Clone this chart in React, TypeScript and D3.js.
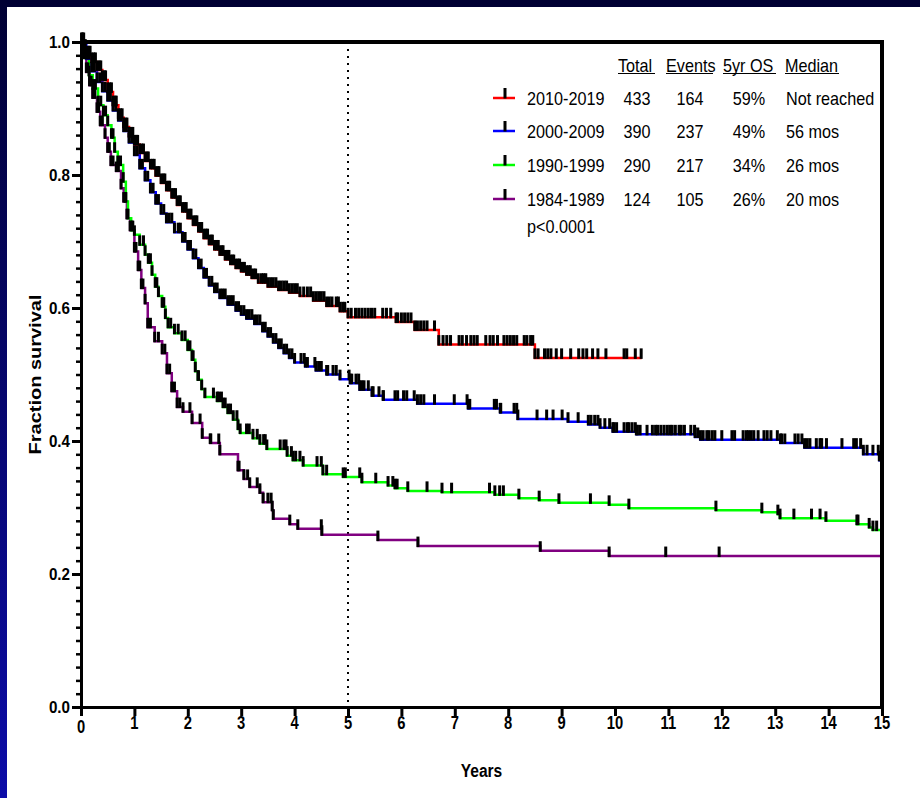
import React, { useEffect, useRef } from 'react';
import * as d3 from 'd3';

// legend / table
const groups = ['2010-2019', '2000-2009', '1990-1999', '1984-1989'];
const groupColors = ['#ff0000', '#0000ff', '#00ff00', '#800080'];
const totals = ['433', '390', '290', '124'];
const events = ['164', '237', '217', '105'];
const os5yr = ['59%', '49%', '34%', '26%'];
const medians = ['Not reached', '56 mos', '26 mos', '20 mos'];
const tableHeaders = ['Total', 'Events', '5yr OS', 'Median'];
const pValue = 'p<0.0001';

// axes
const xTicks = [0, 1, 2, 3, 4, 5, 6, 7, 8, 9, 10, 11, 12, 13, 14, 15];
const yTicks = [0, 0.2, 0.4, 0.6, 0.8, 1.0];

// KM steps: [years, survival after drop]
const redSteps = [
  [0.05, 0.99], [0.12, 0.98], [0.2, 0.97], [0.3, 0.958], [0.4, 0.943], [0.5, 0.925], [0.6, 0.905],
  [0.7, 0.886], [0.8, 0.872], [0.9, 0.858], [1.0, 0.846], [1.1, 0.833], [1.2, 0.821], [1.3, 0.81],
  [1.4, 0.799], [1.5, 0.788], [1.6, 0.777], [1.7, 0.766], [1.8, 0.755], [1.9, 0.745], [2.0, 0.735],
  [2.1, 0.725], [2.2, 0.715], [2.3, 0.705], [2.4, 0.696], [2.5, 0.688], [2.6, 0.68], [2.7, 0.673],
  [2.8, 0.666], [2.9, 0.66], [3.0, 0.655], [3.1, 0.65], [3.2, 0.645], [3.32, 0.638], [3.5, 0.632],
  [3.7, 0.627], [3.9, 0.623], [4.1, 0.618], [4.35, 0.611], [4.6, 0.603], [4.85, 0.595], [5.0, 0.586],
  [5.9, 0.579], [6.25, 0.567], [6.7, 0.545], [8.5, 0.525]
];
const blueSteps = [
  [0.1, 0.975], [0.2, 0.956], [0.3, 0.94], [0.4, 0.926], [0.5, 0.912], [0.6, 0.897], [0.7, 0.882],
  [0.8, 0.866], [0.9, 0.849], [1.0, 0.83], [1.1, 0.81], [1.2, 0.792], [1.3, 0.774], [1.4, 0.757],
  [1.5, 0.742], [1.6, 0.729], [1.75, 0.714], [1.9, 0.7], [2.0, 0.688], [2.1, 0.675], [2.2, 0.66],
  [2.3, 0.646], [2.4, 0.634], [2.5, 0.624], [2.6, 0.615], [2.75, 0.605], [2.9, 0.596], [3.0, 0.59],
  [3.1, 0.584], [3.25, 0.576], [3.4, 0.565], [3.5, 0.557], [3.6, 0.548], [3.7, 0.54], [3.8, 0.532],
  [3.9, 0.525], [4.0, 0.518], [4.2, 0.512], [4.4, 0.506], [4.6, 0.5], [4.85, 0.493], [5.04, 0.487],
  [5.22, 0.477], [5.45, 0.468], [5.66, 0.462], [6.3, 0.456], [7.25, 0.449], [7.85, 0.443],
  [8.18, 0.433], [9.12, 0.429], [9.5, 0.425], [9.72, 0.42], [9.96, 0.414], [10.4, 0.41],
  [11.5, 0.406], [11.6, 0.402], [13.1, 0.397], [13.55, 0.39], [14.65, 0.38], [14.95, 0.371]
];
const greenSteps = [
  [0.07, 0.976], [0.15, 0.95], [0.22, 0.93], [0.32, 0.905], [0.42, 0.89], [0.5, 0.875], [0.57, 0.856],
  [0.63, 0.835], [0.69, 0.815], [0.79, 0.79], [0.84, 0.76], [0.88, 0.735], [0.94, 0.717], [1.0, 0.71],
  [1.1, 0.695], [1.2, 0.68], [1.26, 0.668], [1.33, 0.65], [1.39, 0.632], [1.45, 0.618], [1.52, 0.602],
  [1.58, 0.585], [1.63, 0.571], [1.75, 0.562], [1.89, 0.552], [2.0, 0.537], [2.08, 0.522], [2.14, 0.505],
  [2.19, 0.492], [2.26, 0.478], [2.32, 0.466], [2.55, 0.46], [2.66, 0.451], [2.75, 0.442], [2.85, 0.432],
  [2.94, 0.418], [2.98, 0.412], [3.22, 0.404], [3.35, 0.396], [3.48, 0.388], [3.86, 0.378], [3.97, 0.371],
  [4.16, 0.363], [4.53, 0.35], [4.91, 0.346], [5.26, 0.338], [5.75, 0.333], [5.88, 0.329], [6.12, 0.325],
  [6.76, 0.323], [7.75, 0.319], [8.2, 0.314], [8.58, 0.311], [8.95, 0.307], [9.89, 0.304], [10.26, 0.299],
  [11.89, 0.296], [12.75, 0.293], [13.05, 0.29], [13.09, 0.284], [13.95, 0.28], [14.53, 0.275],
  [14.76, 0.27], [14.83, 0.266]
];
const purpleSteps = [
  [0.04, 0.976], [0.1, 0.955], [0.16, 0.935], [0.22, 0.916], [0.3, 0.895], [0.36, 0.875], [0.45, 0.856],
  [0.5, 0.835], [0.56, 0.815], [0.66, 0.806], [0.75, 0.78], [0.8, 0.76], [0.86, 0.735], [0.92, 0.717],
  [1.0, 0.685], [1.07, 0.657], [1.13, 0.63], [1.2, 0.607], [1.25, 0.571], [1.38, 0.55], [1.52, 0.532],
  [1.61, 0.502], [1.7, 0.475], [1.8, 0.451], [1.91, 0.444], [2.08, 0.427], [2.27, 0.405], [2.42, 0.397],
  [2.6, 0.38], [2.94, 0.356], [3.05, 0.343], [3.16, 0.331], [3.35, 0.322], [3.41, 0.308], [3.58, 0.296],
  [3.6, 0.283], [3.91, 0.275], [4.06, 0.268], [4.51, 0.259], [5.56, 0.251], [6.31, 0.242], [8.6, 0.235],
  [9.89, 0.227]
];

// censored times (years)
const redCensor = [
  0.01, 0.03, 0.08, 0.15, 0.17, 0.24, 0.27, 0.34, 0.37, 0.44, 0.46, 0.54, 0.57, 0.64, 0.66, 0.74, 0.77,
  0.84, 0.86, 0.94, 0.97, 1.04, 1.06, 1.14, 1.17, 1.24, 1.26, 1.34, 1.37, 1.44, 1.46, 1.54, 1.57, 1.64,
  1.66, 1.74, 1.77, 1.84, 1.86, 1.94, 1.97, 2.04, 2.06, 2.14, 2.17, 2.24, 2.26, 2.34, 2.37, 2.44, 2.46,
  2.54, 2.57, 2.64, 2.66, 2.74, 2.77, 2.84, 2.86, 2.94, 2.97, 3.04, 3.06, 3.14, 3.17, 3.24, 3.27, 3.38,
  3.42, 3.46, 3.55, 3.6, 3.65, 3.75, 3.8, 3.85, 3.95, 4.0, 4.05, 4.17, 4.24, 4.3, 4.4, 4.45, 4.5, 4.55,
  4.65, 4.7, 4.78, 4.82, 4.9, 4.94, 5.06, 5.14, 5.2, 5.26, 5.32, 5.38, 5.44, 5.5, 5.65, 5.72, 5.8, 5.93,
  6.0, 6.06, 6.12, 6.18, 6.3, 6.36, 6.42, 6.48, 6.62, 6.78, 6.85, 6.92, 7.08, 7.14, 7.22, 7.3, 7.36, 7.42,
  7.58, 7.66, 7.72, 7.8, 7.92, 7.98, 8.04, 8.1, 8.16, 8.3, 8.35, 8.42, 8.46, 8.56, 8.68, 8.74, 8.8, 8.9,
  9.0, 9.17, 9.32, 9.4, 9.47, 9.58, 9.68, 9.83, 10.17, 10.22, 10.38, 10.49
];
const blueCensor = [
  0.05, 0.15, 0.25, 0.35, 0.45, 0.55, 0.65, 0.75, 0.85, 0.95, 1.05, 1.15, 1.25, 1.35, 1.45, 1.55, 1.65,
  1.7, 1.82, 1.86, 1.95, 2.05, 2.15, 2.25, 2.35, 2.45, 2.55, 2.65, 2.7, 2.8, 2.85, 2.95, 3.05, 3.15, 3.2,
  3.3, 3.35, 3.45, 3.55, 3.65, 3.75, 3.85, 3.95, 4.12, 4.18, 4.24, 4.38, 4.45, 4.5, 4.62, 4.72, 4.78,
  5.02, 5.07, 5.15, 5.2, 5.26, 5.3, 5.38, 5.47, 5.58, 5.66, 5.88, 5.93, 6.04, 6.1, 6.24, 6.36, 6.42, 6.62,
  6.99, 7.23, 7.28, 7.74, 7.78, 7.86, 8.11, 8.16, 8.54, 8.72, 8.84, 9.01, 9.31, 9.55, 9.62, 9.68, 9.81,
  9.9, 9.98, 10.03, 10.17, 10.23, 10.26, 10.32, 10.38, 10.42, 10.47, 10.6, 10.7, 10.76, 10.8, 10.86,
  10.92, 10.98, 11.03, 11.07, 11.13, 11.2, 11.24, 11.3, 11.42, 11.49, 11.55, 11.65, 11.72, 11.76, 11.82,
  11.87, 12.0, 12.19, 12.24, 12.4, 12.46, 12.5, 12.55, 12.6, 12.68, 12.79, 12.85, 12.92, 13.04, 13.12,
  13.18, 13.37, 13.43, 13.5, 13.6, 13.65, 13.77, 13.84, 13.87, 13.96, 14.25, 14.47, 14.52, 14.6, 14.72,
  14.83, 14.93, 14.98
];
const greenCensor = [
  0.1, 0.27, 0.37, 0.46, 0.6, 0.74, 0.97, 1.17, 1.3, 1.42, 1.55, 1.68, 1.82, 1.95, 2.04, 2.1, 2.2,
  2.48, 2.58, 2.63, 2.7, 2.8, 2.92, 3.1, 3.15, 3.3, 3.42, 3.45, 3.73, 3.8, 3.84, 3.94, 4.02, 4.1, 4.42,
  4.5, 4.6, 4.95, 5.22, 5.52, 5.84, 5.92, 6.48, 6.94, 7.65, 7.84, 7.91, 9.54, 13.35, 13.68, 13.84,
  14.55, 14.9
];
const purpleCensor = [
  0.07, 0.13, 0.19, 0.26, 0.33, 0.4, 0.53, 0.6, 0.7, 0.83, 0.96, 1.03, 1.1, 1.16, 1.3, 1.45, 1.57,
  1.66, 1.75, 1.85, 2.04, 2.23, 2.43, 2.58, 2.96, 3.12, 3.3, 3.5, 3.56, 4.5, 10.95, 11.95
];

const curves = [
  { steps: redSteps, censor: redCensor, end: 10.5, color: groupColors[0] },
  { steps: blueSteps, censor: blueCensor, end: 15, color: groupColors[1] },
  { steps: greenSteps, censor: greenCensor, end: 15, color: groupColors[2] },
  { steps: purpleSteps, censor: purpleCensor, end: 15, color: groupColors[3] }
];

const font = "Arial, 'Liberation Sans', sans-serif";

const App = () => {
  const svgRef = useRef(null);

  const width = 920;
  const height = 798;
  const margin = { top: 42, right: 38, bottom: 91, left: 81 };

  useEffect(() => {
    const svg = d3.select(svgRef.current);
    svg.selectAll('*').remove();

    const x = d3.scaleLinear().domain([0, 15]).range([margin.left, width - margin.right]);
    const y = d3.scaleLinear().domain([0, 1]).range([height - margin.bottom, margin.top]);

    // slide background
    const defs = svg.append('defs');
    const grad = defs.append('linearGradient').attr('id', 'bg').attr('x1', 0).attr('y1', 0).attr('x2', 0).attr('y2', 1);
    grad.append('stop').attr('offset', '0%').attr('stop-color', '#000033');
    grad.append('stop').attr('offset', '100%').attr('stop-color', '#0c0ca8');
    svg.append('rect').attr('width', width).attr('height', height).attr('fill', 'url(#bg)');
    svg.append('rect').attr('x', 7).attr('y', 7).attr('width', width - 7).attr('height', height - 7).attr('fill', '#fff');

    // 5 year marker
    svg.append('line')
      .attr('x1', x(5)).attr('x2', x(5))
      .attr('y1', y(1)).attr('y2', y(0))
      .attr('stroke', '#000').attr('stroke-width', 2)
      .attr('stroke-dasharray', '2,5');

    // curves
    const line = d3.line().x(d => x(d[0])).y(d => y(d[1])).curve(d3.curveStepAfter);
    const survAt = (steps, t) => {
      let s = 1;
      steps.forEach(d => { if (d[0] <= t) s = d[1]; });
      return s;
    };

    curves.slice().reverse().forEach(c => {
      const pts = [[0, 1], ...c.steps, [c.end, c.steps[c.steps.length - 1][1]]];
      svg.append('path')
        .attr('d', line(pts))
        .attr('fill', 'none')
        .attr('stroke', c.color)
        .attr('stroke-width', 2.5);
    });

    // censor / event ticks
    curves.slice().reverse().forEach(c => {
      const marks = [...c.steps.map(d => d[0]), ...c.censor];
      svg.append('g').selectAll('rect')
        .data(marks)
        .enter()
        .append('rect')
        .attr('x', t => x(t) - 1.5)
        .attr('y', t => y(survAt(c.steps, t)) - 9.5)
        .attr('width', 3)
        .attr('height', 10.5)
        .attr('fill', '#000');
    });

    // frame
    svg.append('line')
      .attr('x1', x(0)).attr('x2', x(15) + 2)
      .attr('y1', y(1)).attr('y2', y(1))
      .attr('stroke', '#000').attr('stroke-width', 4);
    svg.append('line')
      .attr('x1', x(15)).attr('x2', x(15))
      .attr('y1', y(1)).attr('y2', y(0))
      .attr('stroke', '#000').attr('stroke-width', 4);

    // y axis with minor ticks
    svg.append('g')
      .attr('transform', `translate(${x(0)},0)`)
      .call(d3.axisLeft(y).tickValues(d3.range(0, 1.001, 0.02)).tickSize(5).tickSizeOuter(0).tickFormat(() => ''))
      .call(g => g.select('.domain').remove())
      .call(g => g.selectAll('line').attr('stroke', '#000').attr('stroke-width', 2.5));
    svg.append('g')
      .attr('transform', `translate(${x(0)},0)`)
      .call(d3.axisLeft(y).tickValues(yTicks).tickSize(9).tickSizeOuter(0).tickFormat(() => ''))
      .call(g => g.select('.domain').attr('stroke-width', 3))
      .call(g => g.selectAll('line').attr('stroke', '#000').attr('stroke-width', 3));

    yTicks.forEach(v => {
      svg.append('text')
        .attr('transform', `translate(${x(0) - 11},${y(v) + 5.5}) scale(0.95,1)`)
        .attr('text-anchor', 'end')
        .attr('font-family', font).attr('font-weight', 'bold').attr('font-size', 16)
        .text(v.toFixed(1));
    });

    // x axis
    svg.append('g')
      .attr('transform', `translate(0,${y(0)})`)
      .call(d3.axisBottom(x).tickValues(xTicks).tickSize(9).tickSizeOuter(0).tickFormat(() => ''))
      .call(g => g.select('.domain').attr('stroke-width', 3))
      .call(g => g.selectAll('line').attr('stroke', '#000').attr('stroke-width', 3));

    xTicks.forEach(v => {
      svg.append('text')
        .attr('transform', `translate(${x(v)},${v === 0 ? 733 : 729}) scale(0.82,1)`)
        .attr('text-anchor', 'middle')
        .attr('font-family', font).attr('font-weight', 'bold').attr('font-size', 18)
        .text(v);
    });

    // axis titles
    svg.append('text')
      .attr('transform', `translate(${(x(0) + x(15)) / 2},777) scale(0.82,1)`)
      .attr('text-anchor', 'middle')
      .attr('font-family', font).attr('font-weight', 'bold').attr('font-size', 19)
      .text('Years');
    svg.append('text')
      .attr('transform', `translate(41,${(y(0) + y(1)) / 2}) rotate(-90) scale(1,0.82)`)
      .attr('text-anchor', 'middle')
      .attr('font-family', font).attr('font-weight', 'bold').attr('font-size', 20)
      .text('Fraction survival');

    // legend table
    const legend = svg.append('g').attr('font-family', font).attr('font-size', 18);
    const rowY = [105, 138, 172, 206];
    const colX = [637, 690, 749];
    const headerX = [618, 666, 723, 785];
    const headerW = [37, 47, 53, 54];

    const addText = (tx, ty, txt, anchor) => legend.append('text')
      .attr('transform', `translate(${tx},${ty}) scale(0.9,1)`)
      .attr('text-anchor', anchor)
      .text(txt);

    tableHeaders.forEach((h, i) => {
      addText(headerX[i], 72, h, 'start');
      legend.append('line')
        .attr('x1', headerX[i]).attr('x2', headerX[i] + headerW[i])
        .attr('y1', 73.5).attr('y2', 73.5)
        .attr('stroke', '#000').attr('stroke-width', 1);
    });

    groups.forEach((gname, i) => {
      const cy = rowY[i] - 7;
      legend.append('line')
        .attr('x1', 493).attr('x2', 515)
        .attr('y1', cy).attr('y2', cy)
        .attr('stroke', groupColors[i]).attr('stroke-width', 2.5);
      legend.append('rect')
        .attr('x', 503.5).attr('y', cy - 10).attr('width', 3).attr('height', 10.5)
        .attr('fill', '#000');
      addText(527, rowY[i], gname, 'start');
      addText(colX[0], rowY[i], totals[i], 'middle');
      addText(colX[1], rowY[i], events[i], 'middle');
      addText(colX[2], rowY[i], os5yr[i], 'middle');
      addText(786, rowY[i], medians[i], 'start');
    });
    addText(527, 233, pValue, 'start');
  }, []);

  return (
    <svg
      ref={svgRef}
      width={width}
      height={height}
      style={{ position: 'absolute', left: 0, top: 0, display: 'block' }}
    />
  );
};

export default App;
